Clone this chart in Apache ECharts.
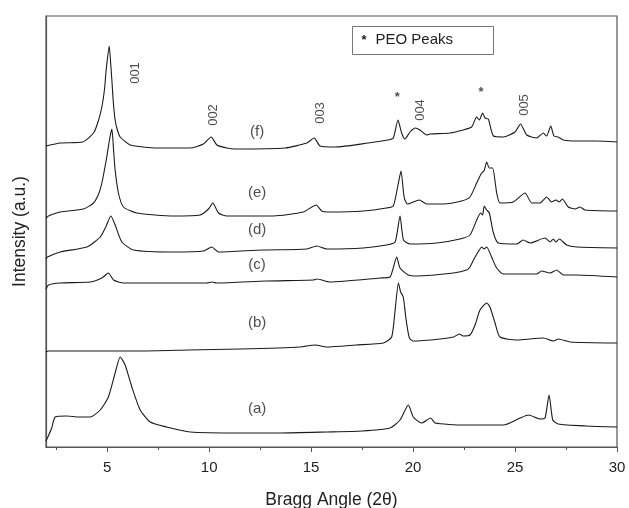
<!DOCTYPE html>
<html>
<head>
<meta charset="utf-8">
<script src="https://cdn.jsdelivr.net/npm/echarts@6/dist/echarts.min.js"></script>
<style>
  html, body { margin: 0; padding: 0; background: #fff; }
  #chart { width: 629px; height: 508px; }
</style>
</head>
<body>
<div id="chart"></div>
<script>
// 2θ ticks
var majorTicks = [5, 10, 15, 20, 25, 30];
var minorTicks = [2.5, 7.5, 12.5, 17.5, 22.5, 27.5];

// XRD patterns, offset-stacked, [2θ, intensity a.u.]
var curveA = [[2.0, 6], [2.07, 9], [2.28, 19], [2.45, 30], [3.02, 31], [3.6, 30], [4.17, 30], [4.66, 37],
  [5.06, 50], [5.39, 74], [5.64, 90], [5.88, 82], [6.21, 60], [6.62, 37], [7.11, 25], [7.92, 20],
  [9.07, 15], [11.52, 14], [13.5, 14], [15.77, 15], [17.5, 16], [18.87, 19], [19.36, 27], [19.77, 42],
  [20.01, 30], [20.42, 24], [20.86, 29], [21.08, 24], [22.46, 22], [24.43, 22], [25.25, 29], [25.66, 32],
  [26.23, 28], [26.47, 29], [26.67, 52], [26.85, 27], [27.12, 23], [28.5, 21], [30, 20]];
var curveB = [[2.0, 95], [2.12, 96], [4.5, 96], [6.62, 96], [9.0, 97], [11.52, 98], [14.46, 100], [15.2, 102],
  [15.77, 100], [17.2, 102], [18.54, 104], [18.95, 110], [19.12, 137], [19.28, 164], [19.39, 155],
  [19.52, 150], [19.66, 127], [19.82, 109], [20.01, 106], [21.32, 108], [21.98, 110], [22.27, 113],
  [22.46, 111], [22.79, 112], [23.04, 122], [23.28, 137], [23.61, 144], [23.77, 140], [24.02, 124],
  [24.26, 110], [25.08, 107], [26.38, 109], [26.88, 106], [27.12, 108], [27.7, 105], [30, 104]];
var curveC = [[2.0, 158], [2.12, 162], [2.7, 164], [4.17, 165], [4.74, 169], [5.06, 174], [5.31, 167],
  [5.8, 164], [9.88, 164], [10.13, 165], [10.37, 164], [12.8, 166], [15.11, 167], [15.28, 168],
  [15.93, 165], [18.38, 169], [18.87, 170], [19.0, 177], [19.2, 190], [19.36, 179], [19.77, 172],
  [20.18, 171], [21.98, 174], [22.63, 177], [22.79, 180], [23.04, 190], [23.25, 197], [23.36, 200],
  [23.48, 198], [23.61, 200], [23.85, 190], [24.1, 179], [24.43, 173], [26.06, 173], [26.3, 176],
  [26.72, 174], [27.04, 177], [27.37, 172], [28.02, 172], [30, 170]];
var curveD = [[2.0, 188], [2.07, 190], [2.7, 195], [4.0, 200], [4.66, 210], [4.95, 221], [5.18, 231],
  [5.39, 222], [5.72, 205], [6.29, 197], [8.25, 195], [9.72, 196], [10.13, 200], [10.46, 195], [12.6, 197],
  [14.79, 198], [15.28, 201], [15.77, 198], [17.56, 199], [18.7, 202], [19.12, 205], [19.36, 231],
  [19.53, 207], [19.85, 203], [21.16, 204], [22.3, 208], [22.79, 212], [23.12, 227], [23.31, 234],
  [23.41, 232], [23.49, 241], [23.61, 237], [23.74, 234], [23.94, 214], [24.18, 204], [25.08, 203],
  [25.4, 207], [25.74, 204], [26.47, 209], [26.72, 205], [26.88, 208], [27.0, 205], [27.17, 208],
  [27.53, 202], [28.02, 200], [30, 199]];
var curveE = [[2.0, 229], [2.12, 231], [2.7, 235], [3.84, 238], [4.33, 244], [4.58, 253], [4.74, 264],
  [4.98, 290], [5.12, 308], [5.23, 318], [5.32, 295], [5.39, 277], [5.55, 254], [5.8, 240], [6.45, 234],
  [8.25, 231], [9.56, 232], [9.97, 238], [10.18, 244], [10.46, 234], [10.87, 231], [13.15, 231],
  [14.62, 235], [15.25, 242], [15.52, 236], [15.93, 235], [17.56, 236], [18.7, 239], [19.03, 241],
  [19.28, 264], [19.41, 276], [19.56, 250], [19.72, 243], [20.31, 247], [20.67, 243], [21.48, 243],
  [22.38, 246], [22.79, 250], [23.12, 264], [23.36, 274], [23.48, 276], [23.61, 285], [23.74, 279],
  [23.9, 279], [24.1, 254], [24.26, 244], [24.91, 245], [25.49, 254], [25.82, 244], [26.22, 244],
  [26.55, 250], [26.79, 245], [27.0, 247], [27.17, 245], [27.32, 248], [27.61, 240], [27.94, 238],
  [28.19, 240], [28.43, 237], [30, 236]];
var curveF = [[2.0, 301], [2.7, 304], [3.8, 305], [4.33, 314], [4.55, 325], [4.74, 340], [4.87, 358],
  [4.95, 377], [5.1, 401], [5.17, 384], [5.23, 367], [5.3, 345], [5.39, 327], [5.5, 317], [5.64, 310],
  [6.13, 302], [7.43, 299], [9.07, 299], [9.72, 303], [10.1, 310], [10.38, 302], [10.87, 299],
  [11.27, 298], [13.73, 299], [14.79, 304], [15.15, 309], [15.44, 301], [16.18, 300], [17.8, 304],
  [18.77, 307], [19.03, 309], [19.26, 327], [19.44, 314], [19.6, 308], [19.85, 315], [20.1, 319],
  [20.34, 317], [20.67, 312], [20.83, 313], [21.81, 314], [22.46, 317], [22.87, 320], [23.12, 330],
  [23.25, 327], [23.41, 334], [23.53, 329], [23.69, 328], [23.94, 311], [24.43, 310], [25.0, 315],
  [25.27, 323], [25.57, 312], [26.06, 309], [26.38, 314], [26.55, 311], [26.75, 321], [26.91, 311],
  [27.12, 310], [27.37, 307], [28.02, 306], [29.0, 306], [30, 305]];

var curves = [curveA, curveB, curveC, curveD, curveE, curveF];
var curveNames = ["(a)", "(b)", "(c)", "(d)", "(e)", "(f)"];
var curveLabelPos = [[12.35, 38], [12.35, 124], [12.35, 182], [12.35, 217], [12.35, 254], [12.35, 315]];

// reflection indices and PEO asterisks
var peakLabels = ["001", "002", "003", "004", "005"];
var peakLabelPos = [[6.37, 374], [10.2, 332], [15.44, 334], [20.34, 337], [25.44, 342]];
var peoPos = [[19.22, 350], [23.33, 355]];

var font = "Arial, 'Liberation Sans', sans-serif";
var myChart = echarts.init(document.getElementById("chart"));

var series = [];
curves.forEach(function (c, i) {
  series.push({
    name: curveNames[i],
    type: "line",
    data: c,
    showSymbol: false,
    smooth: 0.2,
    lineStyle: { color: "#1a1a1a", width: 1.1 },
    z: 3,
  });
});

// text labels, placed in data space
series.push({
  type: "scatter",
  symbolSize: 0,
  data: curveLabelPos.map(function (p, i) {
    return { value: p, label: { formatter: curveNames[i] } };
  }),
  label: { show: true, position: "inside", color: "#222", fontSize: 15, fontFamily: font },
  silent: true,
});
series.push({
  type: "scatter",
  symbolSize: 0,
  data: peakLabelPos.map(function (p, i) {
    return { value: p, label: { formatter: peakLabels[i] } };
  }),
  label: { show: true, position: "inside", rotate: 90, color: "#222", fontSize: 13, fontFamily: font },
  silent: true,
});
series.push({
  type: "scatter",
  symbolSize: 0,
  data: peoPos,
  label: { show: true, position: "inside", formatter: "*", color: "#222", fontSize: 13, fontWeight: "bold", fontFamily: font },
  silent: true,
});

var option = {
  animation: false,
  backgroundColor: "#fff",
  grid: {
    left: 46,
    right: 12,
    top: 16,
    bottom: 61,
    containLabel: false,
    outerBoundsMode: "none",
    show: true,
    borderColor: "#555",
    borderWidth: 1.2,
  },
  xAxis: [
    {
      type: "value",
      min: 2,
      max: 30,
      name: "Bragg Angle (2θ)",
      nameLocation: "middle",
      nameGap: 44,
      nameTextStyle: { fontSize: 17.5, color: "#222", fontFamily: font },
      axisLine: { lineStyle: { color: "#555", width: 1.2 } },
      axisTick: { customValues: majorTicks, length: 5, lineStyle: { color: "#555" } },
      axisLabel: { customValues: majorTicks, fontSize: 15, color: "#222", fontFamily: font, margin: 13 },
      splitLine: { show: false },
    },
    {
      type: "value",
      min: 2,
      max: 30,
      position: "bottom",
      axisLine: { show: false },
      axisTick: { customValues: minorTicks, length: 3, lineStyle: { color: "#555" } },
      axisLabel: { show: false },
      splitLine: { show: false },
    },
  ],
  yAxis: {
    type: "value",
    min: 0,
    max: 431,
    name: "Intensity (a.u.)",
    nameLocation: "middle",
    nameGap: 17,
    nameTextStyle: { fontSize: 17.5, color: "#222", fontFamily: font },
    axisLine: { show: true, lineStyle: { color: "#555", width: 1.2 } },
    axisTick: { show: false },
    axisLabel: { show: false },
    splitLine: { show: false },
  },
  graphic: [
    {
      type: "group",
      left: 352,
      top: 26,
      children: [
        {
          type: "rect",
          shape: { x: 0, y: 0, width: 141, height: 28 },
          style: { fill: "#fff", stroke: "#777", lineWidth: 1 },
        },
        {
          type: "text",
          style: { x: 9, y: 7, text: "*", fontSize: 13, fontWeight: "bold", fill: "#222", fontFamily: font },
        },
        {
          type: "text",
          style: { x: 23, y: 6, text: "PEO Peaks", fontSize: 15, fill: "#222", fontFamily: font },
        },
      ],
    },
  ],
  series: series,
};

myChart.setOption(option);
</script>
</body>
</html>
